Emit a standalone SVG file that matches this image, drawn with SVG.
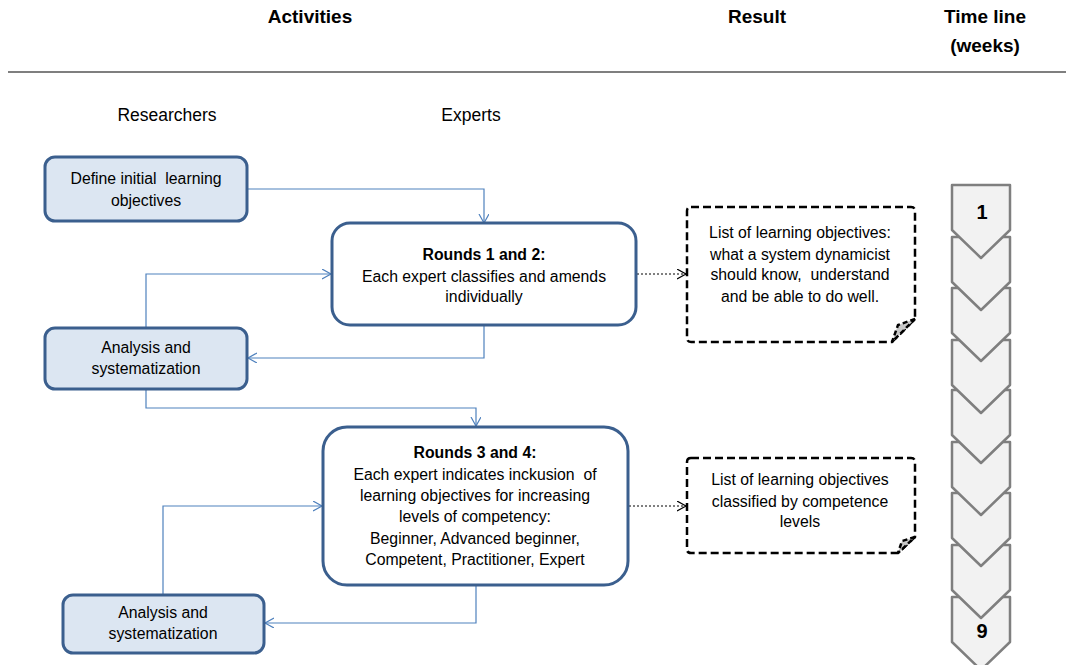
<svg xmlns="http://www.w3.org/2000/svg" width="1066" height="665" viewBox="0 0 1066 665">
<style>
text{font-family:"Liberation Sans",Arial,sans-serif;font-size:15.8px;fill:#000;text-anchor:middle}
.h{font-weight:bold;font-size:19px}
.b{font-weight:bold}
.res{fill:#dce6f2;stroke:#3b5f8e;stroke-width:3}
.exp{fill:#fff;stroke:#3b5f8e;stroke-width:3}
.out{fill:#fff;stroke:#000;stroke-width:2.5;stroke-dasharray:8,4}
.fold{fill:#c8c8c8;stroke:#000;stroke-width:2.5;stroke-dasharray:5,3}
.c{fill:none;stroke:#4f81bd;stroke-width:1.2;marker-end:url(#a)}
.d{fill:none;stroke:#000;stroke-width:1;stroke-dasharray:2,2;marker-end:url(#ad)}
.chev{fill:#f2f2f2;stroke:#7f7f7f;stroke-width:2.5;stroke-linejoin:round}
</style>
<defs>
<marker id="a" markerUnits="userSpaceOnUse" markerWidth="12" markerHeight="12" refX="9" refY="5" orient="auto" viewBox="0 0 12 12">
<path d="M0,0 L9,5 L0,10" fill="none" stroke="#4f81bd" stroke-width="1.2"/>
</marker>
<marker id="ad" markerUnits="userSpaceOnUse" markerWidth="12" markerHeight="12" refX="9" refY="5" orient="auto" viewBox="0 0 12 12">
<path d="M0,0 L9,5 L0,10" fill="none" stroke="#000" stroke-width="1.2"/>
</marker>
<path id="ch" d="M952,0 L1010,0 L1010,45 L981,73 L952,45 Z"/>
</defs>

<g id="header">
<text class="h" x="310" y="23">Activities</text>
<text class="h" x="757" y="23">Result</text>
<text class="h" x="985" y="23">Time line</text>
<text class="h" x="985" y="52">(weeks)</text>
<line x1="8" y1="72" x2="1066" y2="72" stroke="#000" stroke-width="1.2"/>
<text x="167" y="121" style="font-size:17.5px">Researchers</text>
<text x="471" y="121" style="font-size:17.5px">Experts</text>
</g>

<g id="connectors">
<path class="c" d="M247,189 H484 V223"/>
<path class="c" d="M146,328 V274 H331"/>
<path class="c" d="M484,325 V358 H248"/>
<path class="c" d="M146,389 V408 H476 V426"/>
<path class="c" d="M163,595 V506 H322"/>
<path class="c" d="M476,585 V623 H265"/>
<path class="d" d="M637,274 H686"/>
<path class="d" d="M629,506 H686"/>
</g>

<g id="define">
<rect class="res" x="45" y="157" width="202" height="64" rx="10"/>
<text x="146" y="184">Define initial&#160; learning</text>
<text x="146" y="206">objectives</text>
</g>

<g id="rounds12">
<rect class="exp" x="332" y="223" width="304" height="102" rx="18"/>
<text class="b" x="484" y="260">Rounds 1 and 2:</text>
<text x="484" y="282">Each expert classifies and amends</text>
<text x="484" y="302">individually</text>
</g>

<g id="analysis1">
<rect class="res" x="45" y="328" width="202" height="61" rx="10"/>
<text x="146" y="353">Analysis and</text>
<text x="146" y="374">systematization</text>
</g>

<g id="rounds34">
<rect class="exp" x="323" y="427" width="305" height="158" rx="24"/>
<text class="b" x="475" y="458">Rounds 3 and 4:</text>
<text x="475" y="480">Each expert indicates inckusion&#160; of</text>
<text x="475" y="501">learning objectives for increasing</text>
<text x="475" y="522">levels of competency:</text>
<text x="475" y="544">Beginner, Advanced beginner,</text>
<text x="475" y="565">Competent, Practitioner, Expert</text>
</g>

<g id="analysis2">
<rect class="res" x="63" y="595" width="201" height="58" rx="10"/>
<text x="163" y="618">Analysis and</text>
<text x="163" y="639">systematization</text>
</g>

<g id="result1">
<path class="out" d="M691,207 H911 Q915,207 915,211 V319 L892,342 H691 Q687,342 687,338 V211 Q687,207 691,207 Z"/>
<path class="fold" d="M915,319 L898,325 L892,342 Z"/>
<text x="800" y="238">List of learning objectives:</text>
<text x="800" y="260">what a system dynamicist</text>
<text x="800" y="280">should know,&#160; understand</text>
<text x="800" y="302">and be able to do well.</text>
</g>

<g id="result2">
<path class="out" d="M691,458 H911 Q915,458 915,462 V537 L898,553 H691 Q687,553 687,549 V462 Q687,458 691,458 Z"/>
<path class="fold" d="M915,537 L902,541 L898,553 Z"/>
<text x="800" y="485">List of learning objectives</text>
<text x="800" y="507">classified by competence</text>
<text x="800" y="527">levels</text>
</g>

<g id="timeline">
<use href="#ch" class="chev" y="597"/>
<use href="#ch" class="chev" y="545"/>
<use href="#ch" class="chev" y="493"/>
<use href="#ch" class="chev" y="442"/>
<use href="#ch" class="chev" y="390"/>
<use href="#ch" class="chev" y="340"/>
<use href="#ch" class="chev" y="288"/>
<use href="#ch" class="chev" y="237"/>
<use href="#ch" class="chev" y="185"/>
<text class="h" x="982" y="219" style="font-size:20px">1</text>
<text class="h" x="982" y="638" style="font-size:20px">9</text>
</g>
</svg>
